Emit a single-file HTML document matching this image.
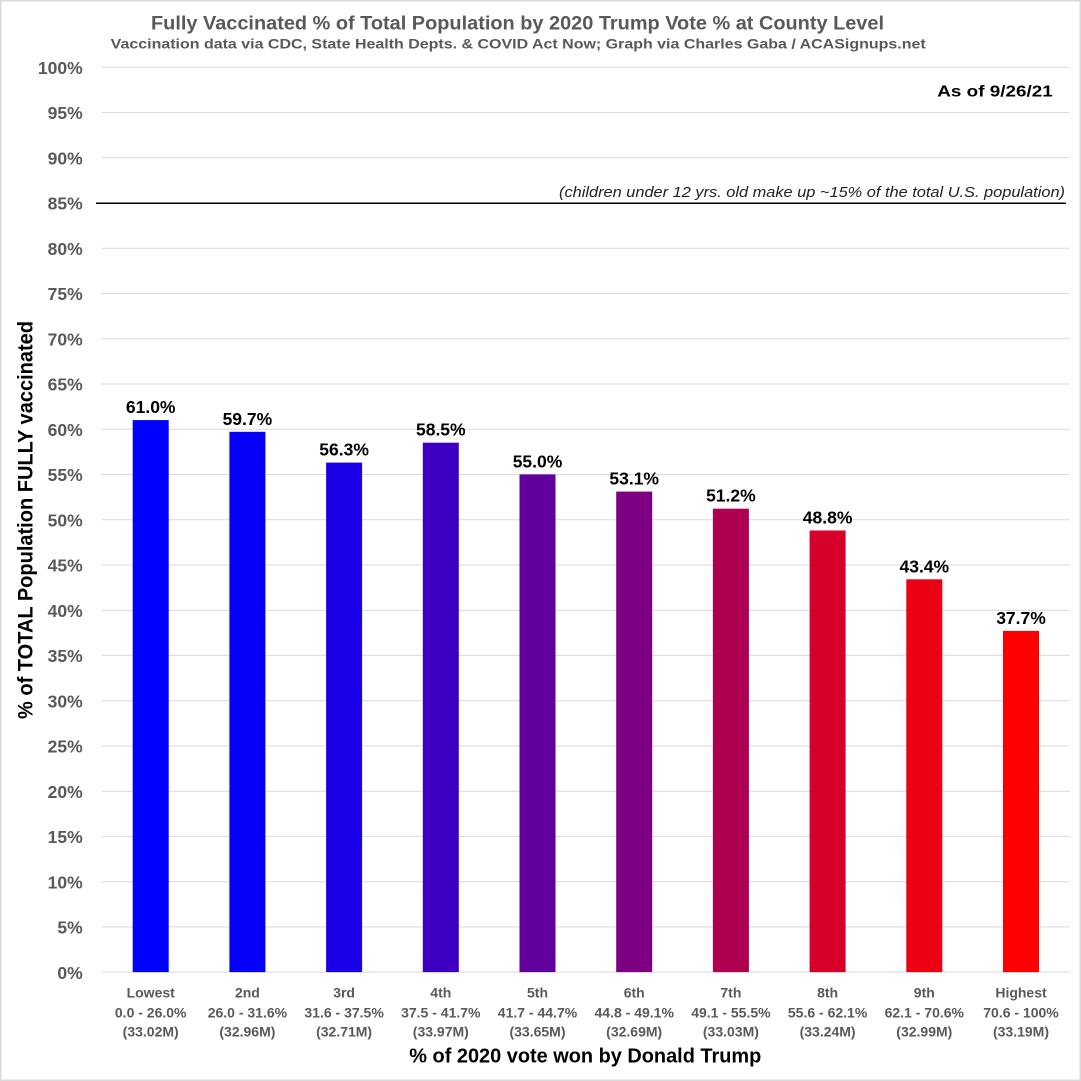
<!DOCTYPE html>
<html>
<head>
<meta charset="utf-8">
<style>
  html, body { margin: 0; padding: 0; background: #ffffff; }
  svg { display: block; }
  text { font-family: "Liberation Sans", Arial, sans-serif; }
</style>
</head>
<body>
<svg width="1081" height="1081" viewBox="0 0 1081 1081" xmlns="http://www.w3.org/2000/svg">
  <rect x="0" y="0" width="1081" height="1081" fill="#ffffff"/>
  <rect x="0.75" y="0.75" width="1079.5" height="1079.5" fill="none" stroke="#d9d9d9" stroke-width="1.5"/>

  <!-- Titles -->
  <text x="151" y="29.3" font-size="19" font-weight="bold" fill="#595959" textLength="733" lengthAdjust="spacingAndGlyphs">Fully Vaccinated % of Total Population by 2020 Trump Vote % at County Level</text>
  <text x="110.7" y="48.3" font-size="14" font-weight="bold" fill="#595959" textLength="815" lengthAdjust="spacingAndGlyphs">Vaccination data via CDC, State Health Depts. &amp; COVID Act Now; Graph via Charles Gaba / ACASignups.net</text>

  <!-- Gridlines -->
  <g stroke="#d9d9d9" stroke-width="1">
    <line x1="101.5" y1="67.3" x2="1069.5" y2="67.3"/>
    <line x1="101.5" y1="112.5" x2="1069.5" y2="112.5"/>
    <line x1="101.5" y1="157.8" x2="1069.5" y2="157.8"/>
    <line x1="101.5" y1="248.3" x2="1069.5" y2="248.3"/>
    <line x1="101.5" y1="293.5" x2="1069.5" y2="293.5"/>
    <line x1="101.5" y1="338.8" x2="1069.5" y2="338.8"/>
    <line x1="101.5" y1="384.0" x2="1069.5" y2="384.0"/>
    <line x1="101.5" y1="429.2" x2="1069.5" y2="429.2"/>
    <line x1="101.5" y1="474.5" x2="1069.5" y2="474.5"/>
    <line x1="101.5" y1="519.7" x2="1069.5" y2="519.7"/>
    <line x1="101.5" y1="565.0" x2="1069.5" y2="565.0"/>
    <line x1="101.5" y1="610.2" x2="1069.5" y2="610.2"/>
    <line x1="101.5" y1="655.4" x2="1069.5" y2="655.4"/>
    <line x1="101.5" y1="700.7" x2="1069.5" y2="700.7"/>
    <line x1="101.5" y1="745.9" x2="1069.5" y2="745.9"/>
    <line x1="101.5" y1="791.2" x2="1069.5" y2="791.2"/>
    <line x1="101.5" y1="836.4" x2="1069.5" y2="836.4"/>
    <line x1="101.5" y1="881.6" x2="1069.5" y2="881.6"/>
    <line x1="101.5" y1="926.9" x2="1069.5" y2="926.9"/>
    <line x1="101.5" y1="972.1" x2="1069.5" y2="972.1"/>
  </g>

  <!-- 85% reference line -->
  <line x1="96" y1="203.3" x2="1066" y2="203.3" stroke="#000000" stroke-width="1.5"/>
  <text x="559" y="197" font-size="15" font-style="italic" fill="#222222" textLength="506" lengthAdjust="spacingAndGlyphs">(children under 12 yrs. old make up ~15% of the total U.S. population)</text>

  <!-- As of -->
  <text x="937.3" y="96.7" font-size="16" font-weight="bold" fill="#000000" textLength="115.4" lengthAdjust="spacingAndGlyphs">As of 9/26/21</text>

  <!-- Y tick labels -->
  <g font-size="17.5" font-weight="bold" fill="#595959" text-anchor="end">
    <text x="82.7" y="74.0">100%</text>
    <text x="82.7" y="119.2">95%</text>
    <text x="82.7" y="164.5">90%</text>
    <text x="82.7" y="209.7">85%</text>
    <text x="82.7" y="255.0">80%</text>
    <text x="82.7" y="300.2">75%</text>
    <text x="82.7" y="345.5">70%</text>
    <text x="82.7" y="390.7">65%</text>
    <text x="82.7" y="435.9">60%</text>
    <text x="82.7" y="481.2">55%</text>
    <text x="82.7" y="526.4">50%</text>
    <text x="82.7" y="571.7">45%</text>
    <text x="82.7" y="616.9">40%</text>
    <text x="82.7" y="662.1">35%</text>
    <text x="82.7" y="707.4">30%</text>
    <text x="82.7" y="752.6">25%</text>
    <text x="82.7" y="797.9">20%</text>
    <text x="82.7" y="843.1">15%</text>
    <text x="82.7" y="888.3">10%</text>
    <text x="82.7" y="933.6">5%</text>
    <text x="82.7" y="978.8">0%</text>
  </g>

  <!-- Y axis title -->
  <text transform="translate(32.7,520) rotate(-90)" x="0" y="0" font-size="21" font-weight="bold" fill="#000000" text-anchor="middle" textLength="398" lengthAdjust="spacingAndGlyphs">% of TOTAL Population FULLY vaccinated</text>

  <!-- Bars -->
  <rect x="132.7" y="420.1" width="36" height="552" fill="#0000ff"/>
  <rect x="229.4" y="431.8" width="36" height="540.3" fill="#0600f8"/>
  <rect x="326.1" y="462.6" width="36" height="509.5" fill="#1a00e6"/>
  <rect x="422.8" y="442.7" width="36" height="529.4" fill="#3d00c2"/>
  <rect x="519.5" y="474.4" width="36" height="497.7" fill="#62009d"/>
  <rect x="616.2" y="491.6" width="36" height="480.5" fill="#7d0083"/>
  <rect x="712.9" y="508.7" width="36" height="463.4" fill="#ad0050"/>
  <rect x="809.6" y="530.5" width="36" height="441.6" fill="#d6002b"/>
  <rect x="906.3" y="579.3" width="36" height="392.8" fill="#ec0014"/>
  <rect x="1003.0" y="630.9" width="36" height="341.2" fill="#ff0000"/>

  <!-- Data labels -->
  <g font-size="17.5" font-weight="bold" fill="#000000" text-anchor="middle">
    <text x="150.7" y="413.1">61.0%</text>
    <text x="247.4" y="424.8">59.7%</text>
    <text x="344.1" y="455.6">56.3%</text>
    <text x="440.8" y="435.7">58.5%</text>
    <text x="537.5" y="467.4">55.0%</text>
    <text x="634.2" y="484.6">53.1%</text>
    <text x="730.9" y="501.7">51.2%</text>
    <text x="827.6" y="523.5">48.8%</text>
    <text x="924.3" y="572.3">43.4%</text>
    <text x="1021.0" y="623.9">37.7%</text>
  </g>

  <!-- Category labels -->
  <g font-size="14" font-weight="bold" fill="#595959" text-anchor="middle">
    <text x="150.7" y="997.7">Lowest</text>
    <text x="150.7" y="1017.3">0.0 - 26.0%</text>
    <text x="150.7" y="1036.7">(33.02M)</text>

    <text x="247.4" y="997.7">2nd</text>
    <text x="247.4" y="1017.3">26.0 - 31.6%</text>
    <text x="247.4" y="1036.7">(32.96M)</text>

    <text x="344.1" y="997.7">3rd</text>
    <text x="344.1" y="1017.3">31.6 - 37.5%</text>
    <text x="344.1" y="1036.7">(32.71M)</text>

    <text x="440.8" y="997.7">4th</text>
    <text x="440.8" y="1017.3">37.5 - 41.7%</text>
    <text x="440.8" y="1036.7">(33.97M)</text>

    <text x="537.5" y="997.7">5th</text>
    <text x="537.5" y="1017.3">41.7 - 44.7%</text>
    <text x="537.5" y="1036.7">(33.65M)</text>

    <text x="634.2" y="997.7">6th</text>
    <text x="634.2" y="1017.3">44.8 - 49.1%</text>
    <text x="634.2" y="1036.7">(32.69M)</text>

    <text x="730.9" y="997.7">7th</text>
    <text x="730.9" y="1017.3">49.1 - 55.5%</text>
    <text x="730.9" y="1036.7">(33.03M)</text>

    <text x="827.6" y="997.7">8th</text>
    <text x="827.6" y="1017.3">55.6 - 62.1%</text>
    <text x="827.6" y="1036.7">(33.24M)</text>

    <text x="924.3" y="997.7">9th</text>
    <text x="924.3" y="1017.3">62.1 - 70.6%</text>
    <text x="924.3" y="1036.7">(32.99M)</text>

    <text x="1021.0" y="997.7">Highest</text>
    <text x="1021.0" y="1017.3">70.6 - 100%</text>
    <text x="1021.0" y="1036.7">(33.19M)</text>
  </g>

  <!-- X axis title -->
  <text x="409.3" y="1062.3" font-size="20" font-weight="bold" fill="#000000" textLength="352" lengthAdjust="spacingAndGlyphs">% of 2020 vote won by Donald Trump</text>
</svg>
</body>
</html>
